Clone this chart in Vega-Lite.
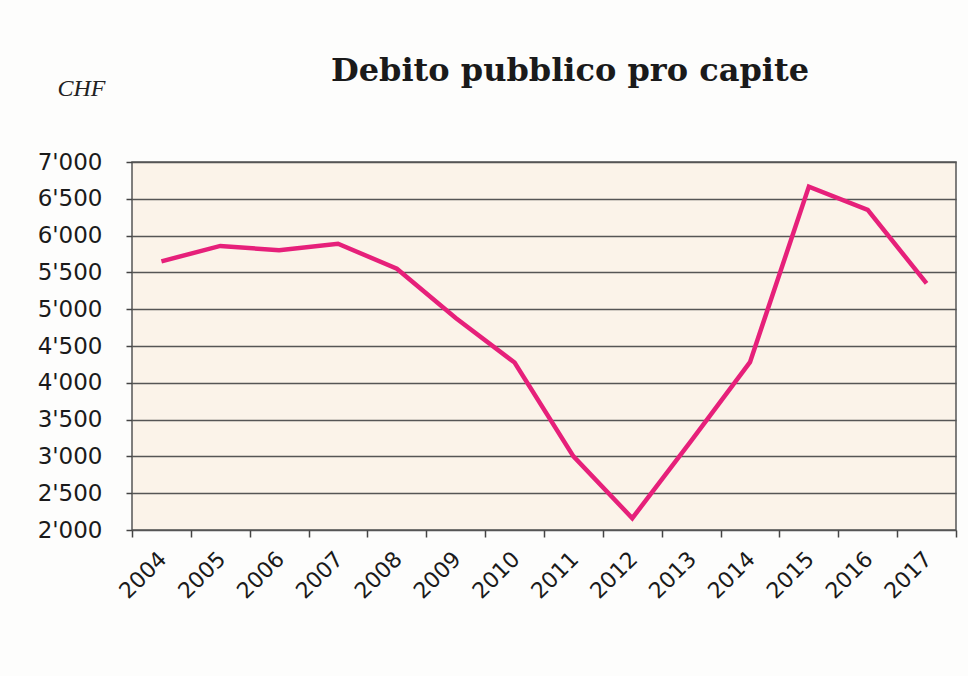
{
  "$schema": "https://vega.github.io/schema/vega-lite/v6.json",
  "width": 824,
  "height": 368,
  "autosize": "none",
  "padding": {"left": 132, "top": 162, "right": 12, "bottom": 146},
  "background": "#fdfdfc",
  "title": {
    "text": "Debito pubblico pro capite",
    "font": "DejaVu Serif",
    "fontWeight": "bold",
    "fontSize": 32,
    "color": "#1a1a1a",
    "anchor": "middle",
    "frame": "group",
    "dx": 26,
    "offset": -12
  },
  "config": {
    "view": {"fill": "#fbf3e9", "stroke": "#555555", "strokeWidth": 1.5}
  },
  "data": {
    "values": [
      {"anno": "2004", "debito": 5650},
      {"anno": "2005", "debito": 5860},
      {"anno": "2006", "debito": 5800},
      {"anno": "2007", "debito": 5890},
      {"anno": "2008", "debito": 5550},
      {"anno": "2009", "debito": 4880},
      {"anno": "2010", "debito": 4275},
      {"anno": "2011", "debito": 3000},
      {"anno": "2012", "debito": 2160},
      {"anno": "2013", "debito": 3210},
      {"anno": "2014", "debito": 4280},
      {"anno": "2015", "debito": 6665},
      {"anno": "2016", "debito": 6350},
      {"anno": "2017", "debito": 5350}
    ]
  },
  "mark": {"type": "line", "color": "#e6207a", "strokeWidth": 4.5, "strokeJoin": "miter"},
  "encoding": {
    "x": {
      "field": "anno",
      "type": "ordinal",
      "scale": {"paddingInner": 0, "paddingOuter": 0},
      "axis": {
        "title": null,
        "labelAngle": -45,
        "labelFont": "DejaVu Sans",
        "labelFontSize": 22,
        "labelColor": "#1a1a1a",
        "labelPadding": 11,
        "labelOffset": -6,
        "bandPosition": 0,
        "tickBand": "extent",
        "ticks": true,
        "tickSize": 7,
        "tickColor": "#444444",
        "tickWidth": 1.5,
        "domain": false,
        "grid": false
      }
    },
    "y": {
      "field": "debito",
      "type": "quantitative",
      "scale": {"domain": [2000, 7000], "nice": false, "zero": false},
      "axis": {
        "title": "CHF",
        "titleAngle": 0,
        "titleFont": "Liberation Serif",
        "titleFontStyle": "italic",
        "titleFontWeight": "normal",
        "titleFontSize": 24,
        "titleColor": "#222222",
        "titleAlign": "left",
        "titleBaseline": "alphabetic",
        "titleX": -75,
        "titleY": -67,
        "values": [2000, 2500, 3000, 3500, 4000, 4500, 5000, 5500, 6000, 6500, 7000],
        "labelExpr": "replace(format(datum.value, ','), ',', \"'\")",
        "labelFont": "DejaVu Sans",
        "labelFontSize": 23,
        "labelColor": "#1a1a1a",
        "labelPadding": 24,
        "tickSize": 6,
        "tickColor": "#444444",
        "tickWidth": 1.5,
        "domain": false,
        "grid": true,
        "gridColor": "#555555",
        "gridWidth": 1.5
      }
    }
  }
}
